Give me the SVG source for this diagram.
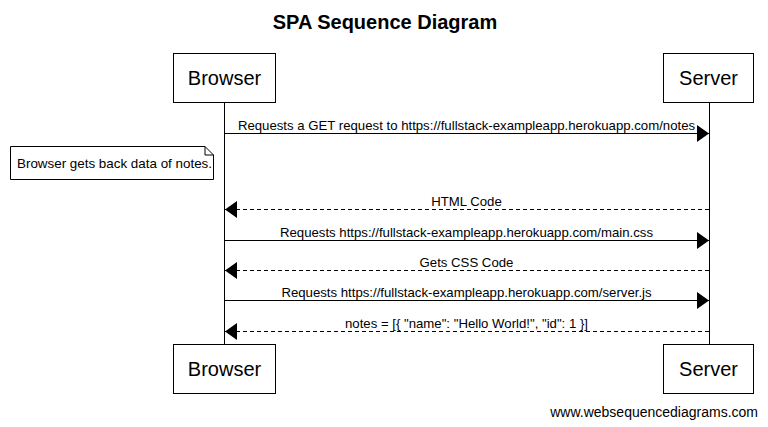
<svg xmlns="http://www.w3.org/2000/svg" width="768" height="427" viewBox="0 0 768 427">
<style>
text{font-family:"Liberation Sans",Arial,sans-serif;fill:#000}
.actor rect{fill:#fff;stroke:#000;stroke-width:1}
.actor text{font-size:20px;text-anchor:middle}
.msg{font-size:13.2px;text-anchor:middle}
.line{stroke:#000;stroke-width:1;fill:none}
.dash{stroke-dasharray:4,3}
</style>
<defs>
<marker id="ah" viewBox="0 0 12 17" refX="12" refY="8.5" markerWidth="12" markerHeight="17" markerUnits="userSpaceOnUse" orient="auto">
<path d="M0,0 L12,8.5 L0,17 Z" fill="#000"/>
</marker>
</defs>
<rect width="768" height="427" fill="#fff"/>
<text x="385" y="29" font-size="20" font-weight="bold" text-anchor="middle">SPA Sequence Diagram</text>
<g id="lifelines">
<line class="line" x1="224.5" y1="102" x2="224.5" y2="344"/>
<line class="line" x1="709.5" y1="102" x2="709.5" y2="344"/>
</g>
<g id="browser-top" class="actor"><rect x="173.5" y="53.5" width="102" height="49"/><text x="224.5" y="85">Browser</text></g>
<g id="server-top" class="actor"><rect x="663.5" y="53.5" width="90" height="49"/><text x="708.5" y="85">Server</text></g>
<g id="browser-bottom" class="actor"><rect x="173.5" y="344.5" width="102" height="49"/><text x="224.5" y="376">Browser</text></g>
<g id="server-bottom" class="actor"><rect x="663.5" y="344.5" width="90" height="49"/><text x="708.5" y="376">Server</text></g>
<g id="note">
<path d="M10.5,146.5 H205 L213.5,155 V179.5 H10.5 Z" fill="#fff" stroke="#000"/>
<path d="M205,146.5 V155 H213.5" fill="none" stroke="#000"/>
<text x="17" y="167.5" font-size="13.4">Browser gets back data of notes.</text>
</g>
<g id="connectors">
<line class="line" x1="224.5" y1="133.5" x2="709" y2="133.5" marker-end="url(#ah)"/>
<line class="line dash" x1="709" y1="209.5" x2="225" y2="209.5" marker-end="url(#ah)"/>
<line class="line" x1="224.5" y1="240.5" x2="709" y2="240.5" marker-end="url(#ah)"/>
<line class="line dash" x1="709" y1="270.5" x2="225" y2="270.5" marker-end="url(#ah)"/>
<line class="line" x1="224.5" y1="300.5" x2="709" y2="300.5" marker-end="url(#ah)"/>
<line class="line dash" x1="709" y1="331.5" x2="225" y2="331.5" marker-end="url(#ah)"/>
</g>
<g id="labels">
<text class="msg" x="466.5" y="129.5">Requests a GET request to https://fullstack-exampleapp.herokuapp.com/notes</text>
<text class="msg" x="466.5" y="206">HTML Code</text>
<text class="msg" x="466.5" y="236.5">Requests https://fullstack-exampleapp.herokuapp.com/main.css</text>
<text class="msg" x="466.5" y="267">Gets CSS Code</text>
<text class="msg" x="466.5" y="296.5">Requests https://fullstack-exampleapp.herokuapp.com/server.js</text>
<text class="msg" x="466.5" y="327.5">notes = [{ "name": "Hello World!", "id": 1 }]</text>
</g>
<text x="758" y="417" font-size="14" text-anchor="end">www.websequencediagrams.com</text>
</svg>
